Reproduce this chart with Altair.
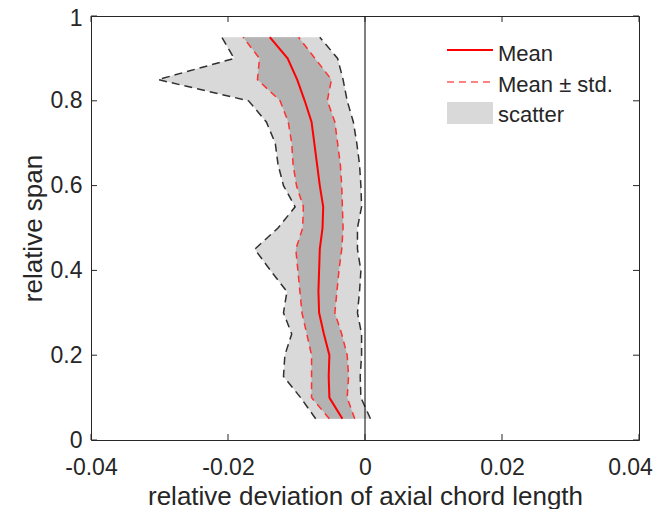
import altair as alt
import pandas as pd

# relative span levels
span = [0.05, 0.10, 0.15, 0.20, 0.25, 0.30, 0.35, 0.40, 0.45, 0.50,
        0.55, 0.60, 0.65, 0.70, 0.75, 0.80, 0.85, 0.90, 0.95]
scatter_min = [-0.0072, -0.0094, -0.0119, -0.0117, -0.0107, -0.0119, -0.0114, -0.0138, -0.0161, -0.0127,
               -0.0102, -0.0119, -0.0127, -0.0131, -0.0144, -0.0170, -0.0302, -0.0191, -0.0209]
scatter_max = [0.0008, -0.0006, -0.0007, -0.0005, -0.0005, -0.0011, -0.0008, -0.0006, -0.0011, -0.0011,
               -0.0005, -0.0006, -0.0008, -0.0012, -0.0017, -0.0026, -0.0032, -0.0040, -0.0066]
std_lo = [-0.0052, -0.0078, -0.0078, -0.0078, -0.0085, -0.0092, -0.0095, -0.0098, -0.0101, -0.0091,
          -0.0090, -0.0100, -0.0105, -0.0107, -0.0112, -0.0124, -0.0157, -0.0154, -0.0178]
mean = [-0.0033, -0.0052, -0.0053, -0.0052, -0.0060, -0.0067, -0.0068, -0.0067, -0.0066, -0.0062,
        -0.0061, -0.0066, -0.0070, -0.0074, -0.0078, -0.0088, -0.0099, -0.0113, -0.0139]
std_hi = [-0.0015, -0.0026, -0.0024, -0.0026, -0.0034, -0.0044, -0.0041, -0.0038, -0.0034, -0.0032,
          -0.0033, -0.0034, -0.0036, -0.0040, -0.0044, -0.0055, -0.0049, -0.0073, -0.0097]

x_ticks = [-0.04, -0.02, 0.0, 0.02, 0.04]
y_ticks = [0.0, 0.2, 0.4, 0.6, 0.8, 1.0]
legend_labels = ["Mean", "Mean \u00b1 std.", "scatter"]

df = pd.DataFrame({"span": span, "smin": scatter_min, "smax": scatter_max,
                   "lo": std_lo, "hi": std_hi, "mean": mean})

W, H = 548, 424
FONT = "Liberation Sans"
AX = "#262626"

xs = alt.Scale(domain=[-0.04, 0.04], nice=False, zero=False)
ys = alt.Scale(domain=[0, 1], nice=False, zero=False)

xaxis = alt.Axis(values=x_ticks, ticks=False, tickSize=0, grid=False, domain=False,
                 labelFont=FONT, labelFontSize=23, labelColor=AX, labelPadding=16,
                 labelFlush=False, labelOverlap=False,
                 labelOffset={"condition": {"test": "datum.value >= 0.039", "value": -9}, "value": 0},
                 labelExpr="datum.value < 0 ? '-' + format(-datum.value, '~g') : format(datum.value, '~g')",
                 title="relative deviation of axial chord length", titleFont=FONT,
                 titleFontSize=26, titleFontWeight="normal", titleColor=AX,
                 titleBaseline="alphabetic", titleY=64)
yaxis = alt.Axis(values=y_ticks, ticks=False, tickSize=0, grid=False, domain=False,
                 labelFont=FONT, labelFontSize=23, labelColor=AX, labelPadding=9,
                 labelFlush=False, labelOverlap=False,
                 labelOffset={"condition": {"test": "datum.value >= 0.99", "value": 2}, "value": 0},
                 labelExpr="format(datum.value, '~g')",
                 title="relative span", titleFont=FONT, titleFontSize=26,
                 titleFontWeight="normal", titleColor=AX, titlePadding=4)


def X(f):
    return alt.X(f, type="quantitative", scale=xs, axis=xaxis)


def Y(f):
    return alt.Y(f, type="quantitative", scale=ys, axis=yaxis)


base = alt.Chart(df)

outer = base.mark_area(color="#d9d9d9", orient="horizontal").encode(
    y=Y("span"), x=X("smin"), x2="smax")
inner = base.mark_area(color="#b3b3b3", orient="horizontal").encode(
    y=Y("span"), x=X("lo"), x2="hi")


def line(field, color, width, dash=None):
    kw = dict(color=color, strokeWidth=width)
    if dash:
        kw["strokeDash"] = dash
    return base.mark_line(**kw).encode(x=X(field), y=Y("span"), order="span:Q")


l_smin = line("smin", "#303030", 1.5, [8, 5])
l_smax = line("smax", "#303030", 1.5, [8, 5])
l_lo = line("lo", "#ff3030", 1.5, [7, 5])
l_hi = line("hi", "#ff3030", 1.5, [7, 5])
l_mean = line("mean", "#ff0000", 2)

zero = alt.Chart(pd.DataFrame({"v": [0.0]})).mark_rule(color="black", strokeWidth=1).encode(x=X("v"))

xt = alt.Chart(pd.DataFrame({"v": x_ticks}))
yt = alt.Chart(pd.DataFrame({"v": y_ticks}))
tb = xt.mark_rule(color=AX, strokeWidth=1).encode(x=X("v"), y=alt.value(H), y2=alt.value(H - 6))
tt = xt.mark_rule(color=AX, strokeWidth=1).encode(x=X("v"), y=alt.value(0), y2=alt.value(6))
tl = yt.mark_rule(color=AX, strokeWidth=1).encode(y=Y("v"), x=alt.value(0), x2=alt.value(6))
tr = yt.mark_rule(color=AX, strokeWidth=1).encode(y=Y("v"), x=alt.value(W), x2=alt.value(W - 6))

one = alt.Chart(pd.DataFrame({"a": [0]}))
lg1 = one.mark_rule(color="#ff0000", strokeWidth=2).encode(
    x=alt.value(356), x2=alt.value(402), y=alt.value(34))
lg2 = one.mark_rule(color="#ff5a5a", strokeWidth=1.5, strokeDash=[7, 5]).encode(
    x=alt.value(356), x2=alt.value(402), y=alt.value(66))
lg3 = one.mark_rect(color="#d9d9d9").encode(
    x=alt.value(356), x2=alt.value(402), y=alt.value(86), y2=alt.value(108))
txt = []
for lab, ty in zip(legend_labels, [45, 76, 106]):
    txt.append(one.mark_text(text=lab, align="left", baseline="alphabetic", font=FONT,
                             fontSize=22, color=AX).encode(x=alt.value(407), y=alt.value(ty)))

chart = alt.layer(outer, inner, l_smin, l_smax, l_lo, l_hi, l_mean, zero,
                  tb, tt, tl, tr, lg1, lg2, lg3, *txt).properties(
    width=W, height=H,
    autosize=alt.AutoSizeParams(type="none"),
    padding={"left": 83, "top": 8, "right": 14, "bottom": 69},
).configure_view(stroke=AX, strokeWidth=1)

chart.save("out.html", embed_options={"renderer": "svg", "actions": False})
